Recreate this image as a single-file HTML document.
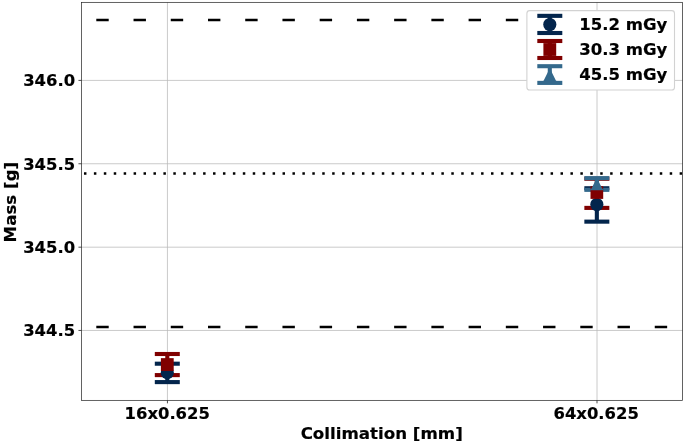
<!DOCTYPE html>
<html lang="en"><head><meta charset="utf-8"><title>Mass vs Collimation</title>
<style>html,body{margin:0;padding:0;background:#fff;}svg{display:block;}text{font-family:"DejaVu Sans","Liberation Sans",sans-serif;font-weight:bold;font-size:16.42px;fill:#000;stroke:#000;stroke-width:0.18px;}</style>
</head><body>
<svg width="685" height="444" viewBox="0 0 685 444">
<rect width="685" height="444" fill="#fff"/>
<defs><clipPath id="ax"><rect x="81.45" y="2.35" width="601.15" height="398.00"/></clipPath></defs>
<g stroke="#b8b8b8" stroke-width="0.75" fill="none">
<line x1="167.43" y1="2.35" x2="167.43" y2="400.35"/>
<line x1="597.00" y1="2.35" x2="597.00" y2="400.35"/>
<line x1="81.45" y1="80.40" x2="682.60" y2="80.40"/>
<line x1="81.45" y1="163.75" x2="682.60" y2="163.75"/>
<line x1="81.45" y1="247.18" x2="682.60" y2="247.18"/>
<line x1="81.45" y1="330.45" x2="682.60" y2="330.45"/>
</g>
<g stroke="#000" stroke-width="0.7" fill="none">
<line x1="167.43" y1="400.35" x2="167.43" y2="403.35"/>
<line x1="597.00" y1="400.35" x2="597.00" y2="403.35"/>
<line x1="78.45" y1="80.40" x2="81.45" y2="80.40"/>
<line x1="78.45" y1="163.75" x2="81.45" y2="163.75"/>
<line x1="78.45" y1="247.18" x2="81.45" y2="247.18"/>
<line x1="78.45" y1="330.45" x2="81.45" y2="330.45"/>
</g>
<g clip-path="url(#ax)" stroke="#000" stroke-width="2.482" fill="none">
<line x1="-15.39" y1="20.00" x2="700" y2="20.00" stroke-dasharray="12.410 24.820"/>
<line x1="-15.39" y1="326.90" x2="700" y2="326.90" stroke-dasharray="12.410 24.820"/>
<line x1="54.18" y1="173.6" x2="700" y2="173.6" stroke-dasharray="2.482 7.446"/>
</g>
<g stroke="#03254c" stroke-width="4.10" fill="none">
<line x1="167.30" y1="363.70" x2="167.30" y2="382.10"/>
<line x1="154.80" y1="363.70" x2="179.80" y2="363.70"/>
<line x1="154.80" y1="382.10" x2="179.80" y2="382.10"/>
</g>
<g stroke="#03254c" stroke-width="4.10" fill="none">
<line x1="596.85" y1="188.25" x2="596.85" y2="221.65"/>
<line x1="584.35" y1="188.25" x2="609.35" y2="188.25"/>
<line x1="584.35" y1="221.65" x2="609.35" y2="221.65"/>
</g>
<g stroke="#800000" stroke-width="4.10" fill="none">
<line x1="167.30" y1="354.00" x2="167.30" y2="375.10"/>
<line x1="154.80" y1="354.00" x2="179.80" y2="354.00"/>
<line x1="154.80" y1="375.10" x2="179.80" y2="375.10"/>
</g>
<g stroke="#800000" stroke-width="4.10" fill="none">
<line x1="596.85" y1="178.75" x2="596.85" y2="207.90"/>
<line x1="584.35" y1="178.75" x2="609.35" y2="178.75"/>
<line x1="584.35" y1="207.90" x2="609.35" y2="207.90"/>
</g>
<g stroke="#34698c" stroke-width="4.10" fill="none">
<line x1="596.85" y1="178.15" x2="596.85" y2="189.85"/>
<line x1="584.35" y1="178.15" x2="609.35" y2="178.15"/>
<line x1="584.35" y1="189.85" x2="609.35" y2="189.85"/>
</g>
<circle cx="167.30" cy="372.70" r="6.58" fill="#03254c"/>
<circle cx="596.85" cy="204.50" r="6.58" fill="#03254c"/>
<rect x="160.90" y="358.15" width="12.80" height="12.80" fill="#800000"/>
<rect x="590.50" y="186.20" width="12.70" height="12.70" fill="#800000"/>
<polygon points="596.85,177.75 591.38,188.70 590.25,188.70 590.25,190.30 603.45,190.30 603.45,188.70 602.33,188.70" fill="#34698c"/>
<rect x="81.45" y="2.35" width="601.15" height="398.00" fill="none" stroke="#262626" stroke-width="0.72"/>
<rect x="526.9" y="10.6" width="147.6" height="79.45" rx="2.8" ry="2.8" fill="#fff" stroke="#d2d2d2" stroke-width="1.1"/>
<g stroke="#03254c" stroke-width="4.10" fill="none">
<line x1="549.80" y1="15.85" x2="549.80" y2="33.00"/>
<line x1="537.30" y1="15.85" x2="562.30" y2="15.85"/>
<line x1="537.30" y1="33.00" x2="562.30" y2="33.00"/>
</g>
<circle cx="549.80" cy="24.50" r="6.58" fill="#03254c"/>
<g stroke="#800000" stroke-width="4.10" fill="none">
<line x1="549.80" y1="41.00" x2="549.80" y2="58.00"/>
<line x1="537.30" y1="41.00" x2="562.30" y2="41.00"/>
<line x1="537.30" y1="58.00" x2="562.30" y2="58.00"/>
</g>
<rect x="543.40" y="43.10" width="12.80" height="12.80" fill="#800000"/>
<g stroke="#34698c" stroke-width="4.10" fill="none">
<line x1="549.80" y1="66.20" x2="549.80" y2="82.90"/>
<line x1="537.30" y1="66.20" x2="562.30" y2="66.20"/>
<line x1="537.30" y1="82.90" x2="562.30" y2="82.90"/>
</g>
<polygon points="549.80,68.30 543.60,80.70 543.20,80.70 543.20,81.20 556.40,81.20 556.40,80.70 556.00,80.70" fill="#34698c"/>
<text x="579.2" y="29.90" style="font-size:16.55px">15.2 mGy</text>
<text x="579.2" y="54.90" style="font-size:16.55px">30.3 mGy</text>
<text x="579.2" y="79.90" style="font-size:16.55px">45.5 mGy</text>
<text x="75.1" y="86.40" text-anchor="end">346.0</text>
<text x="75.1" y="169.75" text-anchor="end">345.5</text>
<text x="75.1" y="253.18" text-anchor="end">345.0</text>
<text x="75.1" y="336.45" text-anchor="end">344.5</text>
<text x="167.23" y="418.6" text-anchor="middle">16x0.625</text>
<text x="596.20" y="418.6" text-anchor="middle">64x0.625</text>
<text x="381.7" y="438.6" text-anchor="middle" style="font-size:16.67px">Collimation [mm]</text>
<text transform="translate(15.5,202.1) rotate(-90)" text-anchor="middle" style="font-size:16.67px">Mass [g]</text>
</svg>
</body></html>
